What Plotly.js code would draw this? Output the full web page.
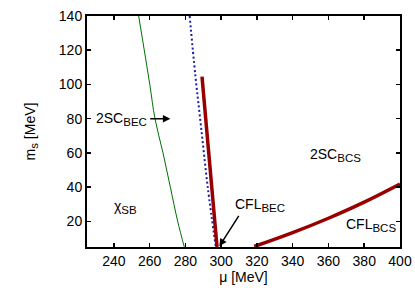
<!DOCTYPE html>
<html>
<head>
<meta charset="utf-8">
<script src="https://cdn.plot.ly/plotly-3.0.1.min.js"></script>
<style>html,body{margin:0;padding:0;background:#fff;}#chart{width:415px;height:291px;}</style>
</head>
<body>
<div id="chart"></div>
<script>
// chiral symmetry breaking boundary (green)
var chiMu = [253.9, 260.1, 263.0, 267.5, 271.6, 275.7, 279.4];
var chiMs = [140, 100, 80, 60, 40, 20, 5];
// BEC-BCS crossover line (blue dotted)
var becMu = [282.4, 285.6, 288.8, 292.5, 297.0];
var becMs = [140, 105, 75, 40, 5];
// 2SC / CFL first order line (thick red, left)
var firstMu = [289.3, 297.7];
var firstMs = [104.6, 5];
// 2SC_BCS / CFL_BCS line (thick red, right)
var bcsMu = [318.5, 340, 360, 380, 400];
var bcsMs = [5.3, 13.4, 21.8, 31.2, 41.8];

var xTicks = [240, 260, 280, 300, 320, 340, 360, 380, 400];
var yTicks = [20, 40, 60, 80, 100, 120, 140];

var font = {family: 'Liberation Sans, Arial, sans-serif', size: 14, color: '#000'};
function sub(base, s) { return base + '<sub><span style="font-size:11.5px">' + s + '</span></sub>'; }

var traces = [
  {x: chiMu, y: chiMs, mode: 'lines', line: {color: '#007000', width: 1, shape: 'spline'}, hoverinfo: 'none'},
  {x: becMu, y: becMs, mode: 'lines', line: {color: '#1c1ca0', width: 2, dash: '2px,2.5px', shape: 'spline'}, hoverinfo: 'none'},
  {x: firstMu, y: firstMs, mode: 'lines', line: {color: '#980000', width: 3.5}, hoverinfo: 'none'},
  {x: bcsMu, y: bcsMs, mode: 'lines', line: {color: '#980000', width: 3.5, shape: 'spline'}, hoverinfo: 'none'}
];

var axisCommon = {
  showgrid: false, zeroline: false, showline: true, linecolor: '#000', linewidth: 2,
  mirror: 'ticks', ticks: 'inside', ticklen: 4, tickwidth: 1.5, tickcolor: '#000',
  tickfont: font
};

var layout = {
  width: 415, height: 291,
  margin: {l: 87, r: 15, t: 16, b: 44},
  paper_bgcolor: '#fff', plot_bgcolor: '#fff',
  showlegend: false,
  font: font,
  xaxis: Object.assign({}, axisCommon, {range: [225, 400], tickvals: xTicks, ticktext: xTicks.map(String),
    title: {text: 'μ [MeV]', font: font, standoff: 4}}),
  yaxis: Object.assign({}, axisCommon, {range: [5, 140], tickvals: yTicks, ticktext: yTicks.map(String),
    title: {text: sub('m', 's') + ' [MeV]', font: font, standoff: 20}}),
  annotations: [
    {x: 246.4, y: 28.4, xref: 'x', yref: 'y', text: sub('χ', 'SB'), showarrow: false, font: font},
    {x: 259.5, y: 80, xref: 'x', yref: 'y', xanchor: 'right', text: sub('2SC', 'BEC'), showarrow: false, font: font},
    {x: 271.6, y: 80, xref: 'x', yref: 'y', ax: 259.5, ay: 80, axref: 'x', ayref: 'y', text: '', showarrow: true,
      arrowhead: 2, arrowsize: 1, arrowwidth: 1.5, arrowcolor: '#000'},
    {x: 322, y: 29.4, xref: 'x', yref: 'y', text: sub('CFL', 'BEC'), showarrow: false, font: font},
    {x: 299, y: 5.4, xref: 'x', yref: 'y', ax: 310.4, ay: 24.1, axref: 'x', ayref: 'y', text: '', showarrow: true,
      arrowhead: 2, arrowsize: 1, arrowwidth: 1.5, arrowcolor: '#000'},
    {x: 364, y: 58.6, xref: 'x', yref: 'y', text: sub('2SC', 'BCS'), showarrow: false, font: font},
    {x: 384, y: 17.7, xref: 'x', yref: 'y', text: sub('CFL', 'BCS'), showarrow: false, font: font}
  ]
};

Plotly.newPlot('chart', traces, layout, {displayModeBar: false, staticPlot: true});
</script>
</body>
</html>
